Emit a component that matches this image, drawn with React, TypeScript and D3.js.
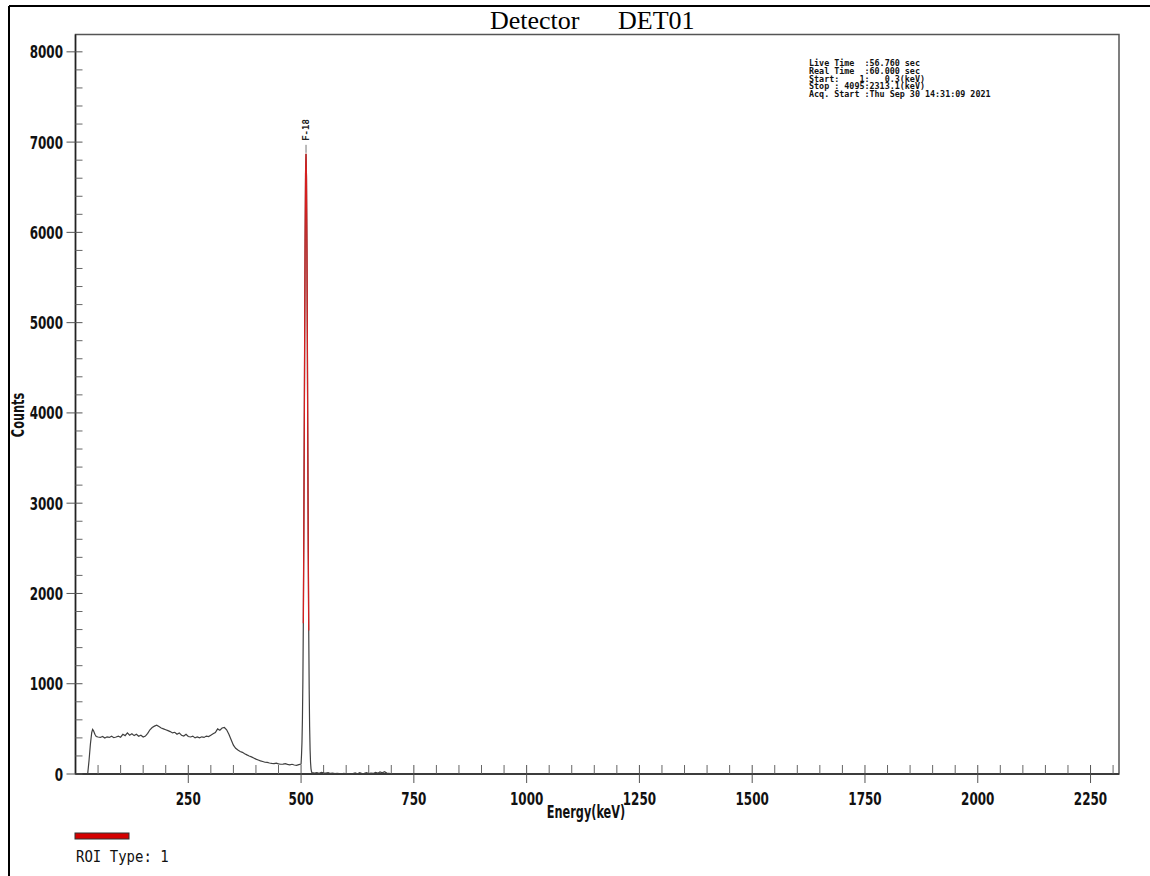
import React from 'react';
import * as d3 from 'd3';

// spectrum (keV / counts)
const lowEnergy = [27, 30, 33, 36, 38, 40, 43, 46, 50, 55, 60, 65, 70, 75, 80, 85, 90, 95, 100, 105, 110, 115, 120, 125, 130, 135, 140, 145, 150, 155, 160, 165, 170, 175, 180, 185, 190, 195, 200, 205, 210, 215, 220, 225, 230, 235, 240, 245, 250, 255, 260, 265, 270, 275, 280, 285, 290, 295, 300, 305, 310, 315, 320, 325, 330, 335, 340, 345, 350, 355, 360, 365, 370, 375, 380, 385, 390, 395, 400, 405, 410, 415, 420, 425, 430, 435, 440, 445, 450, 455, 460, 465, 470, 475, 480, 485, 490, 495, 500];
const lowCounts = [0, 150, 330, 460, 495, 480, 440, 415, 410, 405, 415, 398, 412, 405, 418, 402, 410, 420, 408, 440, 425, 455, 430, 445, 425, 440, 418, 430, 410, 420, 450, 490, 515, 530, 540, 525, 510, 500, 490, 480, 470, 455, 462, 440, 455, 430, 420, 440, 415, 410, 420, 400, 410, 400, 412, 405, 420, 415, 430, 445, 460, 500, 485, 510, 515, 490, 440, 380, 320, 285, 265, 250, 240, 225, 212, 200, 190, 178, 165, 155, 145, 138, 130, 128, 122, 118, 115, 120, 112, 108, 110, 114, 106, 102, 108, 100, 96, 104, 110];

const peakEnergy = [501, 502, 503, 504, 505, 506, 507, 508, 509, 510, 511, 512, 513, 514, 515, 516, 517, 518, 519, 520, 521, 522, 523, 524];
const peakCounts = [210, 347, 600, 1020, 1670, 2565, 3660, 4840, 5910, 6660, 6870, 6610, 5830, 4740, 3560, 2460, 1590, 940, 520, 270, 130, 60, 30, 15];

const tailEnergy = [530, 535, 540, 545, 550, 555, 560, 565, 570, 575, 580, 585, 590, 595, 600, 605, 610, 615, 620, 625, 630, 635, 640, 645, 650, 655, 660, 665, 670, 675, 680, 685, 690, 695, 700, 705, 2313];
const tailCounts = [10, 14, 8, 18, 12, 9, 15, 6, 10, 4, 8, 5, 3, 6, 2, 5, 0, 4, 12, 3, 15, 5, 8, 14, 4, 10, 6, 18, 9, 22, 14, 25, 10, 6, 2, 0, 0];

const roi = [505, 517];
const peakLabel = 'F-18';
const peakEnergyMark = 511;

const xMajor = [250, 500, 750, 1000, 1250, 1500, 1750, 2000, 2250];
const yMajor = [0, 1000, 2000, 3000, 4000, 5000, 6000, 7000, 8000];

const infoLines = [
  'Live Time  :56.760 sec',
  'Real Time  :60.000 sec',
  'Start:    1:   0.3(keV)',
  'Stop : 4095:2313.1(keV)',
  'Acq. Start :Thu Sep 30 14:31:09 2021',
];

const labelFont = '"DejaVu Sans Condensed", "DejaVu Sans", sans-serif';
const monoFont = '"DejaVu Sans Mono", monospace';
const squeeze = 0.74; // the original font is a tall narrow one

export default function App() {
  const left = 75.5, right = 1119, top = 34.5, bottom = 774;
  const x = d3.scaleLinear().domain([0, 2313.1]).range([left, right]);
  const y = d3.scaleLinear().domain([0, 8192]).range([bottom, top]);

  const pts: [number, number][] = [];
  lowEnergy.forEach((e, i) => pts.push([e, lowCounts[i]]));
  peakEnergy.forEach((e, i) => pts.push([e, peakCounts[i]]));
  tailEnergy.forEach((e, i) => pts.push([e, tailCounts[i]]));

  const line = d3.line<[number, number]>().x(d => x(d[0])).y(d => y(d[1]));
  const roiPts = pts.filter(d => d[0] >= roi[0] && d[0] <= roi[1]);

  const xMinor = d3.range(50, 2313, 50).filter(v => v % 250 !== 0);
  const yMinor = d3.range(200, 8192, 200).filter(v => v % 1000 !== 0);

  const peakTop = y(d3.max(peakCounts) as number);

  return (
    <svg width={1150} height={876} style={{ position: 'absolute', left: 0, top: 0, background: '#fff' }}>
      {/* outer frame */}
      <line x1={9} y1={6} x2={1150} y2={6} stroke="#000" strokeWidth={2} />
      <line x1={9} y1={6} x2={9} y2={876} stroke="#000" strokeWidth={2} />

      <text x={490} y={29} fontFamily='"Liberation Serif", "Times New Roman", serif' fontSize={26}>Detector</text>
      <text x={618} y={29} fontFamily='"Liberation Serif", "Times New Roman", serif' fontSize={26}>DET01</text>

      {/* plot box */}
      <rect x={left} y={top} width={right - left} height={bottom - top} fill="none" stroke="#555" strokeWidth={1.5} />
      <line x1={left} y1={top} x2={left} y2={bottom} stroke="#222" strokeWidth={1.5} />
      <line x1={left} y1={bottom} x2={right} y2={bottom} stroke="#222" strokeWidth={1.5} />

      {/* y ticks */}
      {yMinor.map(v => (
        <line key={'ym' + v} x1={left} x2={left + 7} y1={y(v)} y2={y(v)} stroke="#666" strokeWidth={1} />
      ))}
      {yMajor.map(v => (
        <g key={'yM' + v}>
          <line x1={left - 9} x2={left + 7} y1={y(v)} y2={y(v)} stroke="#555" strokeWidth={1} />
          <text transform={`translate(63,${y(v) + 6.5}) scale(${squeeze},1)`} textAnchor="end" fontFamily={labelFont} fontWeight="bold" fontSize={18} fill="#111">{v}</text>
        </g>
      ))}

      {/* x ticks */}
      {xMinor.map(v => (
        <line key={'xm' + v} x1={x(v)} x2={x(v)} y1={bottom - 9} y2={bottom} stroke="#666" strokeWidth={1} />
      ))}
      {xMajor.map(v => (
        <g key={'xM' + v}>
          <line x1={x(v)} x2={x(v)} y1={bottom - 9} y2={bottom + 9} stroke="#555" strokeWidth={1} />
          <text transform={`translate(${x(v)},805) scale(${squeeze},1)`} textAnchor="middle" fontFamily={labelFont} fontWeight="bold" fontSize={18} fill="#111">{v}</text>
        </g>
      ))}

      <text transform={`translate(586,818) scale(${squeeze},1)`} textAnchor="middle" fontFamily={labelFont} fontWeight="bold" fontSize={17} fill="#111">Energy(keV)</text>
      <text transform={`translate(24,415) rotate(-90) scale(${squeeze},1)`} textAnchor="middle" fontFamily={labelFont} fontWeight="bold" fontSize={17} fill="#111">Counts</text>

      {/* spectrum */}
      <path d={line(pts) || ''} fill="none" stroke="#404040" strokeWidth={1.2} />
      <path d={line(roiPts) || ''} fill="none" stroke="#d42020" strokeWidth={1.3} />

      {/* peak marker */}
      <line x1={x(peakEnergyMark)} x2={x(peakEnergyMark)} y1={peakTop - 9} y2={peakTop - 1} stroke="#777" strokeWidth={1} />
      <text transform={`translate(${x(peakEnergyMark) + 3},${peakTop - 13}) rotate(-90)`} fontFamily={monoFont} fontWeight="bold" fontSize={9} fill="#222">{peakLabel}</text>

      {/* acquisition info */}
      {infoLines.map((s, i) => (
        <text key={i} x={809} y={66 + i * 7.8} fontFamily={monoFont} fontWeight="bold" fontSize={8.4} fill="#111" style={{ whiteSpace: 'pre' }}>{s}</text>
      ))}

      {/* legend */}
      <rect x={75} y={833} width={54} height={6} fill="#d40000" stroke="#333" strokeWidth={1} />
      <text transform="translate(76,862) scale(1,1.12)" fontFamily={monoFont} fontSize={14} fill="#111" style={{ whiteSpace: 'pre' }}>ROI Type: 1</text>
    </svg>
  );
}
